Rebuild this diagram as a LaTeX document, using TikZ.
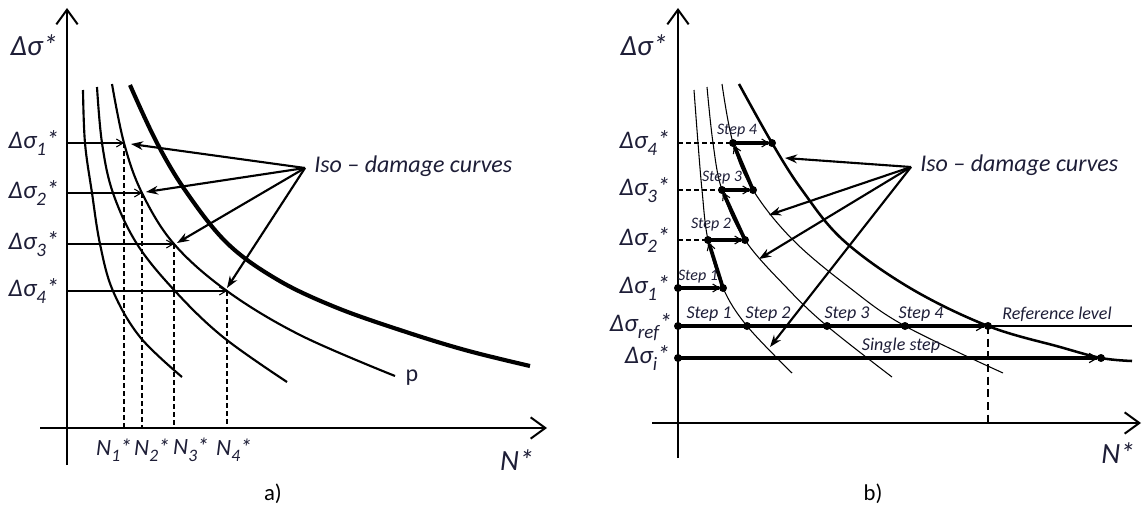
\documentclass[tikz,border=0pt]{standalone}
\usepackage{fontspec}
\setmainfont{Carlito}
\usepackage{graphicx}
\usetikzlibrary{arrows.meta}
\definecolor{txt}{RGB}{30,30,55}
\newcommand\lsub[1]{\raisebox{-0.28em}{\scalebox{0.75}{#1}}}
\begin{document}
\begin{tikzpicture}[x=0.75pt,y=-0.75pt,
  axis/.style={line width=2.1pt,-{Straight Barb[length=11pt,width=16pt,line width=1.5pt]}},
  thincurve/.style={line width=1.6pt},
  thickcurve/.style={line width=3.1pt},
  bthin/.style={line width=0.8pt},
  bthick/.style={line width=1.9pt},
  harrow/.style={line width=1.6pt,-{Straight Barb[length=5pt,width=6pt,line width=0.8pt]}},
  fan/.style={line width=1.6pt,-{Stealth[length=9pt,width=6.5pt]}},
  vdash/.style={line width=0.9pt,dash pattern=on 3.5pt off 2.5pt},
  stepline/.style={line width=2.8pt,-{Straight Barb[length=5pt,width=6pt,line width=0.8pt]},shorten >=2pt},
  levline/.style={line width=2.8pt,-{Straight Barb[length=6pt,width=7pt,line width=0.9pt]},shorten >=2pt},
  dot/.style={circle,fill=black,inner sep=0pt,minimum size=6pt},
  biglab/.style={text=txt,font=\fontsize{22}{25}\selectfont\itshape,inner sep=0pt},
  siglab/.style={text=txt,font=\fontsize{19}{22}\selectfont\itshape,inner sep=0pt,anchor=base east},
  nlab/.style={text=txt,font=\fontsize{17.5}{20}\selectfont\itshape,inner sep=0pt},
  isolab/.style={text=txt,font=\fontsize{18}{21}\selectfont\itshape,inner sep=0pt,anchor=west},
  steplab/.style={text=txt,font=\fontsize{12}{14}\selectfont\itshape,inner sep=0pt},
  steplabL/.style={text=txt,font=\fontsize{13.5}{16}\selectfont\itshape,inner sep=0pt},
  panlab/.style={text=black,font=\fontsize{17}{20}\selectfont,inner sep=0pt}]
\useasboundingbox (0,0) rectangle (1145,510);

% ================= panel a =================
\coordinate (ayb) at (67,465);
\coordinate (ayt) at (67,8);
\coordinate (axl) at (40,428);
\coordinate (axr) at (547,428);
\draw[axis] (ayb) -- (ayt);
\draw[axis] (axl) -- (axr);

% curves
\draw[thincurve] plot[smooth,tension=0.6] coordinates {(83,90) (85,143) (92,193) (100,244) (113,291) (140,337) (182,377)};
\draw[thincurve] plot[smooth,tension=0.6] coordinates {(97,87) (102,143) (113,193) (137,244) (175,291) (223,337) (287,382)};
\coordinate (p1) at (124,143);
\coordinate (p2) at (142,193);
\coordinate (p3) at (174,244);
\coordinate (p4) at (227,291);
\draw[thincurve] plot[smooth,tension=0.6] coordinates {(112,84) (p1) (p2) (p3) (p4) (300,335) (395,376)};
\draw[thickcurve] plot[smooth,tension=0.6] coordinates {(130,85) (157,143) (187,193) (228,244) (278,280) (335,307) (400,330) (465,350) (530,366)};

% rows
\coordinate (a1) at (67,143);
\coordinate (a2) at (67,193);
\coordinate (a3) at (67,244);
\coordinate (a4) at (67,291);
\foreach \i in {1,2,3,4}{
  \draw[harrow] (a\i) -- (p\i);
  \draw[vdash] (p\i) -- (p\i |- axl);
}

% labels
\node[biglab] (asig) at (34,45) {Δσ*};
\node[siglab] (as1) at (59,148) {Δσ\lsub{1}*};
\node[siglab] (as2) at (59,198) {Δσ\lsub{2}*};
\node[siglab] (as3) at (59,249) {Δσ\lsub{3}*};
\node[siglab] (as4) at (59,296) {Δσ\lsub{4}*};
\node[nlab] (an1) at (114,450) {N\lsub{1}*};
\node[nlab] (an2) at (152,450) {N\lsub{2}*};
\node[nlab] (an3) at (191,450) {N\lsub{3}*};
\node[nlab] (an4) at (234,450) {N\lsub{4}*};
\node[biglab] (aN) at (517,460) {N*};
\node[panlab] (alab) at (273,494) {a)};
\node[text=txt,font=\fontsize{18}{21}\selectfont,inner sep=0pt] (ap) at (412,378) {p};

% iso-damage fan
\node[isolab] (aiso) at (314,166) {Iso – damage curves};
\coordinate (af) at (305,168);
\coordinate (at1) at (131,144);
\coordinate (at2) at (146,192);
\coordinate (at3) at (177,243);
\coordinate (at4) at (227,288);
\foreach \i in {1,2,3,4}{ \draw[fan] (af) -- (at\i); }

% ================= panel b =================
\coordinate (byb) at (678,458);
\coordinate (byt) at (678,8);
\coordinate (bxl) at (652,423);
\coordinate (bxr) at (1141,423);
\draw[axis] (byb) -- (byt);
\draw[axis] (bxl) -- (bxr);

% key points
\coordinate (s1a) at (678,288);
\coordinate (s1b) at (723,288);
\coordinate (s2a) at (708,240);
\coordinate (s2b) at (745,240);
\coordinate (s3a) at (722,190);
\coordinate (s3b) at (753,190);
\coordinate (s4a) at (733,143);
\coordinate (s4b) at (772,143);
\coordinate (r0) at (678,326);
\coordinate (r1) at (747,326);
\coordinate (r2) at (827,326);
\coordinate (r3) at (905,326);
\coordinate (r4) at (988,326);
\coordinate (rend) at (1132,326);
\coordinate (i0) at (678,358);
\coordinate (i1) at (1101,358);

% curves
\draw[bthin] plot[smooth,tension=0.6] coordinates {(694,90) (698,143) (702,190) (s2a) (s1b) (r1) (792,373)};
\draw[bthin] plot[smooth,tension=0.6] coordinates {(707,87) (713,143) (s3a) (s2b) (787,288) (r2) (892,377)};
\draw[bthin] plot[smooth,tension=0.6] coordinates {(722,84) (s4a) (s3b) (793,240) (850,288) (r3) (1003,373)};
\draw[bthick] plot[smooth,tension=0.6] coordinates {(739,84) (s4b) (802,190) (843,240) (910,288) (r4) (1060,347) (i1) (1132,361)};

% dashed guides
\draw[vdash] (s2a -| byb) -- (s2a);
\draw[vdash] (s3a -| byb) -- (s3a);
\draw[vdash] (s4a -| byb) -- (s4a);
\draw[line width=0.9pt,dash pattern=on 6pt off 3.5pt] (r4) -- (r4 |- bxl);

% step path
\draw[stepline] (s1a) -- (s1b);
\draw[stepline] (s1b) -- (s2a);
\draw[stepline] (s2a) -- (s2b);
\draw[stepline] (s2b) -- (s3a);
\draw[stepline] (s3a) -- (s3b);
\draw[stepline] (s3b) -- (s4a);
\draw[stepline] (s4a) -- (s4b);

% reference and single step levels
\draw[line width=0.8pt] (r4) -- (rend);
\draw[levline] (r0) -- (r4);
\draw[levline] (i0) -- (i1);

\foreach \c in {s1a,s1b,s2a,s2b,s3a,s3b,s4a,s4b,r0,r1,r2,r3,r4,i0,i1}{
  \node[dot] (d\c) at (\c) {};
}

% labels
\node[biglab] (bsig) at (644,45) {Δσ*};
\node[siglab] (bs4) at (670,148) {Δσ\lsub{4}*};
\node[siglab] (bs3) at (670,195) {Δσ\lsub{3}*};
\node[siglab] (bs2) at (670,245) {Δσ\lsub{2}*};
\node[siglab] (bs1) at (670,293) {Δσ\lsub{1}*};
\node[siglab] (bsr) at (672,331) {Δσ\lsub{ref}*};
\node[siglab] (bsi) at (670,363) {Δσ\lsub{i}*};
\node[biglab] (bN) at (1118,453) {N*};
\node[panlab] (blab) at (873,494) {b)};

\node[steplab] (st4) at (737,131) {Step 4};
\node[steplab] (st3) at (722,178) {Step 3};
\node[steplab] (st2) at (711,225) {Step 2};
\node[steplab] (st1) at (698,277) {Step 1};
\node[steplabL] (sr1) at (709,314) {Step 1};
\node[steplabL] (sr2) at (768,314) {Step 2};
\node[steplabL] (sr3) at (847,314) {Step 3};
\node[steplabL] (sr4) at (921,314) {Step 4};
\node[steplabL] (sref) at (1057,314) {Reference level};
\node[steplabL] (ssing) at (901,346) {Single step};

% iso-damage fan
\node[isolab] (biso) at (920,165) {Iso – damage curves};
\coordinate (bf) at (911,167);
\coordinate (bt1) at (785,158);
\coordinate (bt2) at (769,215);
\coordinate (bt3) at (759,259);
\coordinate (bt4) at (770,347);
\foreach \i in {1,2,3,4}{ \draw[fan] (bf) -- (bt\i); }
\end{tikzpicture}
\end{document}
